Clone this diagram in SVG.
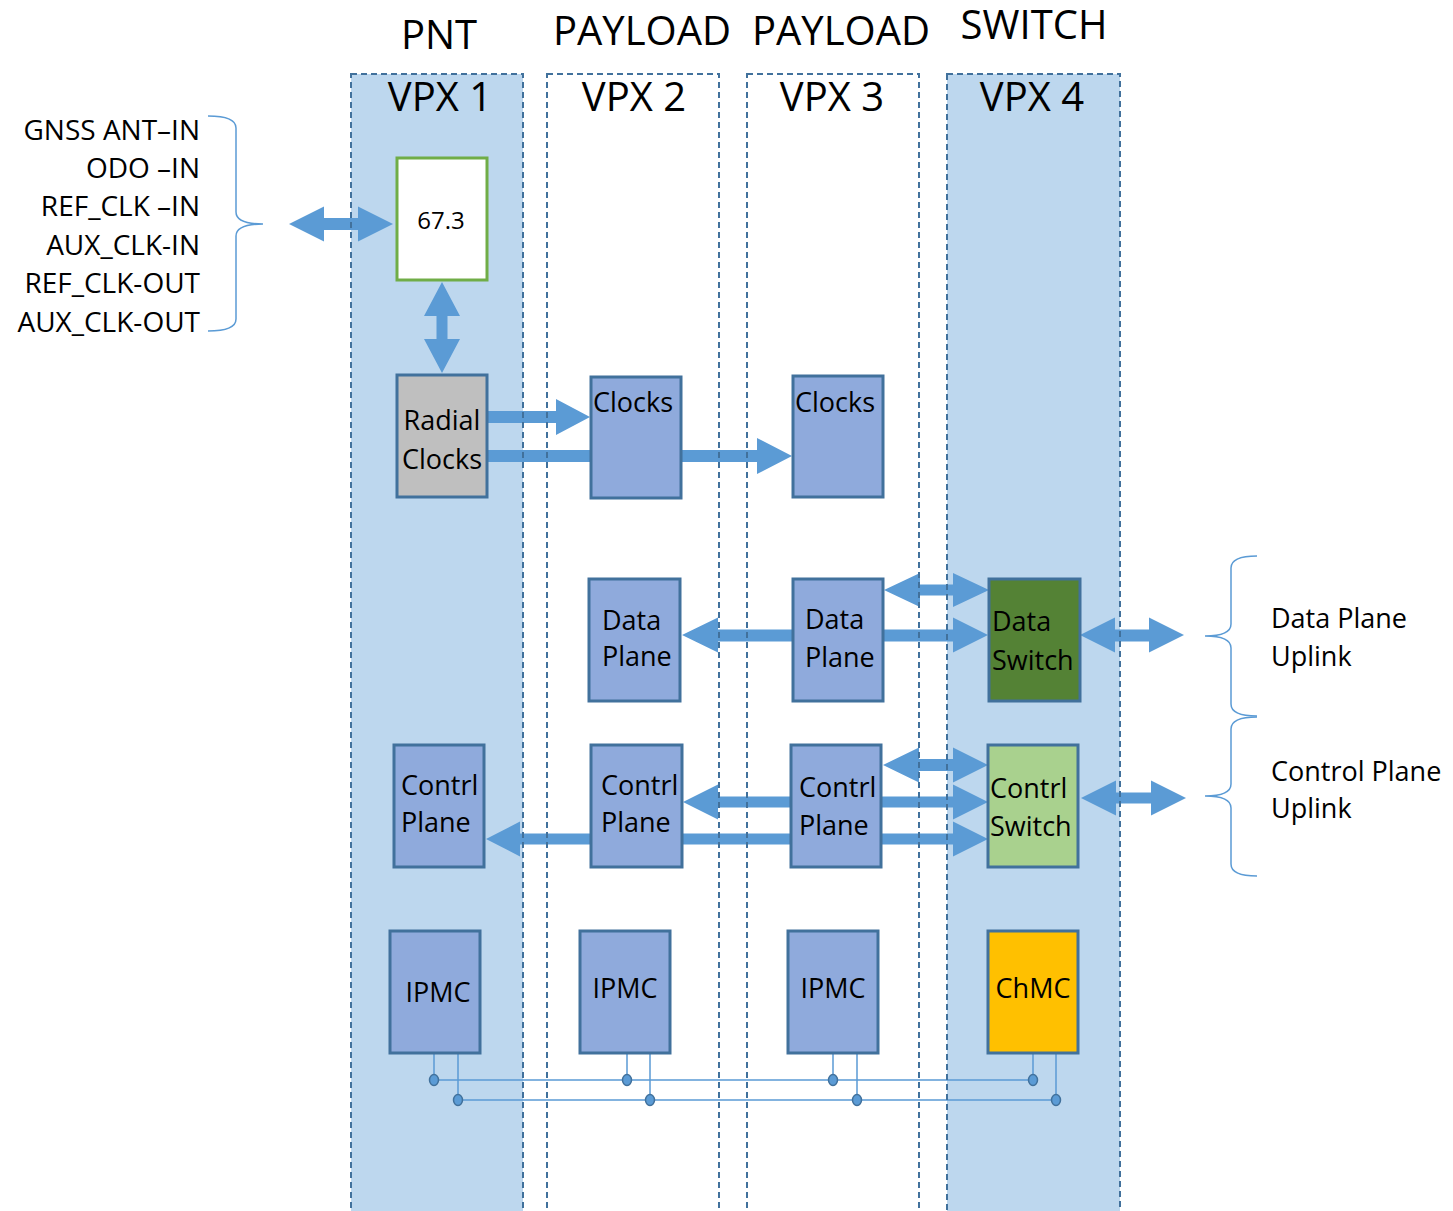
<svg xmlns="http://www.w3.org/2000/svg" width="1453" height="1211" viewBox="0 0 1453 1211">
  <style>
    text { font-family: "Open Sans", "Liberation Sans", sans-serif; fill: #000; }
    .title { font-size: 40px; text-anchor: middle; }
    .lbl { font-size: 27px; }
    .io { font-size: 28px; text-anchor: end; }
    .mid { text-anchor: middle; }
    .slot-blue { fill: #BDD7EE; }
    .slot-white { fill: #FFFFFF; }
    .slot-edge { fill: none; stroke: #41719C; stroke-width: 2; stroke-dasharray: 6 4; }
    .card { fill: #8FAADC; stroke: #41719C; stroke-width: 3; }
    .arrow { fill: #5B9BD5; }
    .bus { fill: none; stroke: #5B9BD5; stroke-width: 1.5; }
    .dot { fill: #5B9BD5; stroke: #41719C; stroke-width: 1.5; }
    .brace { fill: none; stroke: #5B9BD5; stroke-width: 1.5; }
  </style>

  <!-- slot backgrounds -->
  <g id="slots">
    <rect class="slot-blue" x="351" y="74" width="172" height="1150"/>
    <rect class="slot-white" x="547" y="74" width="172" height="1150"/>
    <rect class="slot-white" x="747" y="74" width="172" height="1150"/>
    <rect class="slot-blue" x="947" y="74" width="173" height="1150"/>
  </g>

  <!-- slot headings -->
  <g id="headings">
    <text class="title" x="439" y="49">PNT</text>
    <text class="title" x="642" y="45">PAYLOAD</text>
    <text class="title" x="841" y="45">PAYLOAD</text>
    <text class="title" x="1034" y="39">SWITCH</text>
    <text class="title" x="440" y="111">VPX 1</text>
    <text class="title" x="634" y="111">VPX 2</text>
    <text class="title" x="832" y="111">VPX 3</text>
    <text class="title" x="1032" y="111">VPX 4</text>
  </g>

  <!-- connectors: block arrows and IPMB bus -->
  <g id="connectors">
    <!-- external I/O to 67.3 -->
    <polygon class="arrow" points="289,224 324,206.5 324,218 358,218 358,206.5 393,224 358,241.5 358,230 324,230 324,241.5"/>
    <!-- 67.3 to Radial Clocks -->
    <polygon class="arrow" points="442,282 460,316 447.5,316 447.5,339 460,339 442,373 424,339 436.5,339 436.5,316 424,316"/>
    <!-- Radial Clocks to VPX2 Clocks -->
    <polygon class="arrow" points="487,411 556,411 556,399 590,417 556,435 556,423 487,423"/>
    <!-- Radial Clocks to VPX3 Clocks -->
    <polygon class="arrow" points="487,450 757,450 757,438 792,456 757,474 757,462 487,462"/>
    <!-- data plane links -->
    <polygon class="arrow" points="884,590 920,573 920,584.5 953,584.5 953,573 989,590 953,607 953,595.5 920,595.5 920,607"/>
    <polygon class="arrow" points="682,635 718,617.5 718,629.5 953,629.5 953,617.5 988,635 953,652.5 953,641.5 718,641.5 718,652.5"/>
    <polygon class="arrow" points="1080,635 1115,617.5 1115,629.5 1149,629.5 1149,617.5 1184,635 1149,652.5 1149,641.5 1115,641.5 1115,652.5"/>
    <!-- control plane links -->
    <polygon class="arrow" points="883,765 919,747.5 919,759 953,759 953,747.5 988,765 953,782.5 953,771 919,771 919,782.5"/>
    <polygon class="arrow" points="683,802 718,784.5 718,796.5 953,796.5 953,784.5 988,802 953,819.5 953,807.5 718,807.5 718,819.5"/>
    <polygon class="arrow" points="486,839 520,821.5 520,833.5 953,833.5 953,821.5 988,839 953,856.5 953,844.5 520,844.5 520,856.5"/>
    <polygon class="arrow" points="1081,798 1116,780.5 1116,792.5 1151,792.5 1151,780.5 1186,798 1151,815.5 1151,803.5 1116,803.5 1116,815.5"/>
    <!-- management bus A -->
    <path class="bus" d="M434 1080 H1033 M434 1053 V1080 M627 1053 V1080 M833 1053 V1080 M1033 1053 V1080"/>
    <!-- management bus B -->
    <path class="bus" d="M458 1100 H1056 M458 1053 V1100 M650 1053 V1100 M857 1053 V1100 M1056 1053 V1100"/>
    <ellipse class="dot" cx="434" cy="1080" rx="4.5" ry="5.5"/>
    <ellipse class="dot" cx="627" cy="1080" rx="4.5" ry="5.5"/>
    <ellipse class="dot" cx="833" cy="1080" rx="4.5" ry="5.5"/>
    <ellipse class="dot" cx="1033" cy="1080" rx="4.5" ry="5.5"/>
    <ellipse class="dot" cx="458" cy="1100" rx="4.5" ry="5.5"/>
    <ellipse class="dot" cx="650" cy="1100" rx="4.5" ry="5.5"/>
    <ellipse class="dot" cx="857" cy="1100" rx="4.5" ry="5.5"/>
    <ellipse class="dot" cx="1056" cy="1100" rx="4.5" ry="5.5"/>
  </g>

  <!-- dashed slot outlines -->
  <g id="slot-edges">
    <rect class="slot-edge" x="351" y="74" width="172" height="1150"/>
    <rect class="slot-edge" x="547" y="74" width="172" height="1150"/>
    <rect class="slot-edge" x="747" y="74" width="172" height="1150"/>
    <rect class="slot-edge" x="947" y="74" width="173" height="1150"/>
  </g>

  <!-- external signal lists -->
  <g id="pnt-io">
    <path class="brace" d="M208 116 Q236 116 236 128 L236 212 Q236 224 263 224 Q236 224 236 236 L236 319 Q236 331 208 331"/>
    <text class="io" x="200" y="140">GNSS ANT–IN</text>
    <text class="io" x="200" y="178">ODO –IN</text>
    <text class="io" x="200" y="216">REF_CLK –IN</text>
    <text class="io" x="200" y="255">AUX_CLK-IN</text>
    <text class="io" x="200" y="293">REF_CLK-OUT</text>
    <text class="io" x="200" y="332">AUX_CLK-OUT</text>
  </g>

  <g id="data-uplink">
    <path class="brace" d="M1257 556 Q1231 556 1231 568 L1231 624 Q1231 636 1205 636 Q1231 636 1231 648 L1231 704 Q1231 716 1257 716"/>
    <text class="lbl" x="1271" y="628">Data Plane</text>
    <text class="lbl" x="1271" y="666">Uplink</text>
  </g>

  <g id="control-uplink">
    <path class="brace" d="M1257 717 Q1231 717 1231 729 L1231 784 Q1231 796 1205 796 Q1231 796 1231 808 L1231 864 Q1231 876 1257 876"/>
    <text class="lbl" x="1271" y="781">Control Plane</text>
    <text class="lbl" x="1271" y="818">Uplink</text>
  </g>

  <!-- VPX 1 -->
  <g id="gnss-module">
    <rect x="397" y="158" width="90" height="122" fill="#FFFFFF" stroke="#70AD47" stroke-width="3"/>
    <text class="mid" x="441" y="229" font-size="24">67.3</text>
  </g>
  <g id="radial-clocks">
    <rect x="397" y="375" width="90" height="122" fill="#BFBFBF" stroke="#41719C" stroke-width="3"/>
    <text class="lbl mid" x="442" y="430">Radial</text>
    <text class="lbl mid" x="442" y="469">Clocks</text>
  </g>
  <g id="vpx1-control">
    <rect class="card" x="394" y="745" width="90" height="122"/>
    <text class="lbl" x="401" y="795">Contrl</text>
    <text class="lbl" x="401" y="832">Plane</text>
  </g>
  <g id="vpx1-ipmc">
    <rect class="card" x="390" y="931" width="90" height="122"/>
    <text class="lbl mid" x="438" y="1002">IPMC</text>
  </g>

  <!-- VPX 2 -->
  <g id="vpx2-clocks">
    <rect class="card" x="591" y="377" width="90" height="121"/>
    <text class="lbl" x="593" y="412">Clocks</text>
  </g>
  <g id="vpx2-data">
    <rect class="card" x="589" y="579" width="91" height="122"/>
    <text class="lbl" x="602" y="630">Data</text>
    <text class="lbl" x="602" y="666">Plane</text>
  </g>
  <g id="vpx2-control">
    <rect class="card" x="591" y="745" width="91" height="122"/>
    <text class="lbl" x="601" y="795">Contrl</text>
    <text class="lbl" x="601" y="832">Plane</text>
  </g>
  <g id="vpx2-ipmc">
    <rect class="card" x="580" y="931" width="90" height="122"/>
    <text class="lbl mid" x="625" y="998">IPMC</text>
  </g>

  <!-- VPX 3 -->
  <g id="vpx3-clocks">
    <rect class="card" x="793" y="376" width="90" height="121"/>
    <text class="lbl" x="795" y="412">Clocks</text>
  </g>
  <g id="vpx3-data">
    <rect class="card" x="793" y="579" width="90" height="122"/>
    <text class="lbl" x="805" y="629">Data</text>
    <text class="lbl" x="805" y="667">Plane</text>
  </g>
  <g id="vpx3-control">
    <rect class="card" x="791" y="745" width="90" height="122"/>
    <text class="lbl" x="799" y="797">Contrl</text>
    <text class="lbl" x="799" y="835">Plane</text>
  </g>
  <g id="vpx3-ipmc">
    <rect class="card" x="788" y="931" width="90" height="122"/>
    <text class="lbl mid" x="833" y="998">IPMC</text>
  </g>

  <!-- VPX 4 -->
  <g id="data-switch">
    <rect x="989" y="579" width="91" height="122" fill="#548235" stroke="#41719C" stroke-width="3"/>
    <text class="lbl" x="992" y="631">Data</text>
    <text class="lbl" x="992" y="670">Switch</text>
  </g>
  <g id="control-switch">
    <rect x="988" y="745" width="90" height="122" fill="#A9D18E" stroke="#41719C" stroke-width="3"/>
    <text class="lbl" x="990" y="798">Contrl</text>
    <text class="lbl" x="990" y="836">Switch</text>
  </g>
  <g id="chmc">
    <rect x="988" y="931" width="90" height="122" fill="#FFC000" stroke="#41719C" stroke-width="3"/>
    <text class="lbl mid" x="1033" y="998">ChMC</text>
  </g>
</svg>
